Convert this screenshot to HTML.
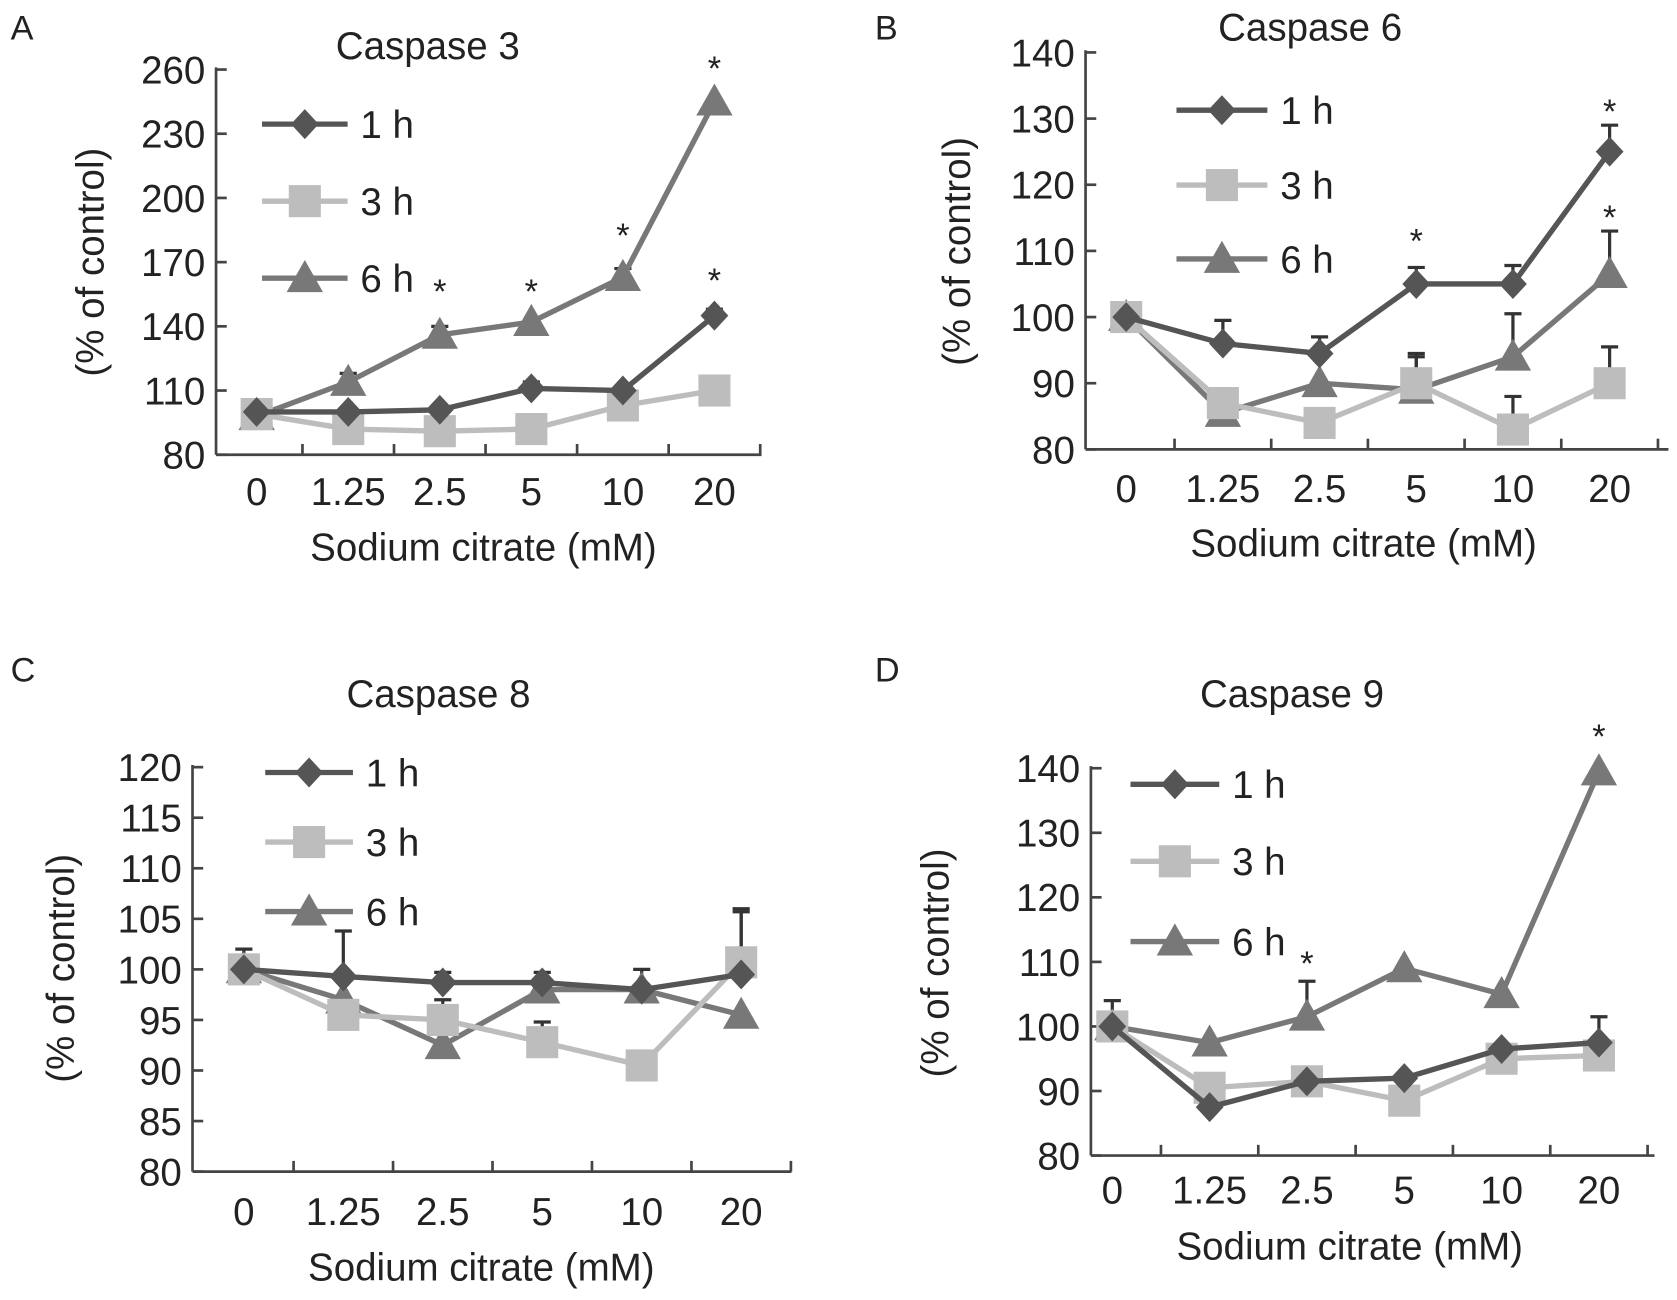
<!DOCTYPE html>
<html><head><meta charset="utf-8">
<style>
html,body{margin:0;padding:0;background:#fff;}
svg{display:block;}
text{font-family:"Liberation Sans",Arial,sans-serif;fill:#222;}
</style></head>
<body>
<svg id="fig" width="1677" height="1300" viewBox="0 0 1568 1215" preserveAspectRatio="none" xmlns="http://www.w3.org/2000/svg"></svg>
<script>
const categories = ["0","1.25","2.5","5","10","20"];
const seriesNames = ["1 h","3 h","6 h"];
// Caspase 3
const c3_1h = [100,100,101,111,110,145];
const c3_3h = [99,92,91,92,103,110];
const c3_6h = [98,114,136,142,163,245];
const c3_ticks = [80,110,140,170,200,230,260];
const c3_err1 = [0,0,0,3,0,3];
const c3_err3 = [0,0,0,0,0,0];
const c3_err6 = [0,4,4,0,4,0];
// Caspase 6
const c6_1h = [100,96,94.5,105,105,125];
const c6_3h = [100,87,84,90,83,90];
const c6_6h = [100,85.5,90,89,94,106.5];
const c6_ticks = [80,90,100,110,120,130,140];
const c6_err1 = [0,3.5,2.5,2.5,2.8,4];
const c6_err3 = [0,0,0,4.5,5,5.5];
const c6_err6 = [0,0,0,5,6.5,6.5];
// Caspase 8
const c8_1h = [100,99.3,98.7,98.7,98,99.5];
const c8_3h = [100,95.5,95,92.8,90.5,100.7];
const c8_6h = [100,97,92.5,98,98,95.5];
const c8_ticks = [80,85,90,95,100,105,110,115,120];
const c8_err1 = [2,4.5,1,1,2,6.5];
const c8_err3 = [0,0,2,2,0,5];
const c8_err6 = [0,0,0,0,0,0];
// Caspase 9
const c9_1h = [100,87.5,91.5,92,96.5,97.5];
const c9_3h = [100,90.5,91.5,88.5,95,95.5];
const c9_6h = [100,97.5,101.5,109,105,139.5];
const c9_ticks = [80,90,100,110,120,130,140];
const c9_err1 = [4,0,0,0,0,4];
const c9_err3 = [0,0,0,0,0,0];
const c9_err6 = [0,0,5.5,0,0,0];

const NS="http://www.w3.org/2000/svg";
const svg=document.getElementById('fig');
const FS=36;
function mk(tag,attrs,parent){const e=document.createElementNS(NS,tag);for(const k in attrs)e.setAttribute(k,attrs[k]);(parent||svg).appendChild(e);return e;}
function txt(s,x,y,size,anchor,parent){const t=mk('text',{x:x,y:y,'font-size':size,'text-anchor':anchor||'middle'},parent);t.textContent=s;return t;}
const colors=["#555","#bdbdbd","#787878"];
function marker(kind,x,y,g,col){
  if(kind===0) return mk('polygon',{points:`${x},${y-14} ${x+13},${y} ${x},${y+14} ${x-13},${y}`,fill:col},g);
  if(kind===1) return mk('rect',{x:x-15,y:y-15,width:30,height:30,fill:col},g);
  return mk('polygon',{points:`${x},${y-17} ${x+17},${y+13} ${x-17},${y+13}`,fill:col},g);
}
function panel(cfg){
  const g=mk('g',{});
  
  
  const {ax,x0,x1,yTop,yBot,min,max,cats}=cfg;
  const ys=v=>yBot-(v-min)/(max-min)*(yBot-yTop);
  const xs=i=>cats[0]+i*(cats[1]-cats[0]);
  const letter=txt(cfg.letter,cfg.letterX,cfg.letterY,32,'start',g);
  
  
  const title=txt(cfg.title,cfg.titleX,cfg.titleY,FS,'middle',g);
  
  
  const ya=mk('line',{x1:ax,y1:yTop-2,x2:ax,y2:yBot,stroke:'#444','stroke-width':2.5},g);
  
  
  const xa=mk('line',{x1:ax,y1:yBot,x2:x1,y2:yBot,stroke:'#444','stroke-width':2.5},g);
  
  
  cfg.ticks.forEach(v=>{
    mk('line',{x1:ax,y1:ys(v),x2:ax+10,y2:ys(v),stroke:'#444','stroke-width':2.5},g);
    const t=txt(String(v),ax-10,ys(v)+13,FS,'end',g);
    
    
  });
  const step=cats[1]-cats[0];
  for(let i=0;i<6;i++){
    const tx=xs(i)+step/2;
    mk('line',{x1:tx,y1:yBot,x2:tx,y2:yBot-10,stroke:'#444','stroke-width':2.5},g);
    const t=txt(categories[i],xs(i),cfg.xlabY,FS,'middle',g);
    
    
  }
  const xt=txt('Sodium citrate (mM)',cfg.xtitleX,cfg.xtitleY,FS,'middle',g);
  
  
  const yt=txt('(% of control)',0,0,FS,'middle',g);
  yt.setAttribute('transform',`translate(${cfg.ytitleX},${cfg.ytitleY}) rotate(-90)`);
  
  
  [cfg.err1,cfg.err3,cfg.err6].forEach((errs,s)=>{
    const d=cfg.series[s];
    errs.forEach((e,i)=>{ if(!e) return;
      const x=xs(i),y0=ys(d[i]),y1=ys(d[i]+e);
      const eb=mk('path',{d:`M${x},${y0} V${y1} M${x-8},${y1} H${x+8}`,stroke:'#333','stroke-width':3,fill:'none'},g);
      
      
    });
  });
  [2,1,0].forEach(s=>{
    const d=cfg.series[s];
    const pts=d.map((v,i)=>`${xs(i)},${ys(v)}`).join(' ');
    const pl=mk('polyline',{points:pts,fill:'none',stroke:colors[s],'stroke-width':5},g);
    
    
    d.forEach((v,i)=>{
      const m=marker(s,xs(i),ys(v),g,colors[s]);
      
      
    });
  });
  cfg.stars.forEach(st=>{
    const d=cfg.series[st[0]];
    const top=d[st[1]]+[cfg.err1,cfg.err3,cfg.err6][st[0]][st[1]];
    const t=txt('*',xs(st[1]),ys(top)-st[2],32,'middle',g);
    
    
  });
  cfg.legY.forEach((ly,s)=>{
    const lg=mk('g',{},g);
    
    
    mk('line',{x1:cfg.legX0,y1:ly,x2:cfg.legX1,y2:ly,stroke:colors[s],'stroke-width':5},lg);
    marker(s,(cfg.legX0+cfg.legX1)/2,ly,lg,colors[s]);
    txt(seriesNames[s],cfg.legX1+12,ly+13,FS,'start',lg);
  });
}
panel({name:'panel-a-caspase3',letter:'A',letterX:10,letterY:37,title:'Caspase 3',titleX:400,titleY:55,
  ax:202,x1:712,yTop:65,yBot:425,min:80,max:260,cats:[240,325.6],ticks:c3_ticks,
  series:[c3_1h,c3_3h,c3_6h],err1:c3_err1,err3:c3_err3,err6:c3_err6,
  stars:[[2,2,22],[2,3,18],[2,4,20],[2,5,20],[0,5,16]],
  xlabY:472,xtitleX:452,xtitleY:524,ytitleX:97,ytitleY:245,legX0:245,legX1:325,legY:[116,188,260]});
panel({name:'panel-b-caspase6',letter:'B',letterX:818,letterY:37,title:'Caspase 6',titleX:1225,titleY:38,
  ax:1015,x1:1560,yTop:49,yBot:420,min:80,max:140,cats:[1053,1143.4],ticks:c6_ticks,
  series:[c6_1h,c6_3h,c6_6h],err1:c6_err1,err3:c6_err3,err6:c6_err6,
  stars:[[0,3,14],[0,5,2],[2,5,2]],
  xlabY:469,xtitleX:1275,xtitleY:520,ytitleX:907,ytitleY:235,legX0:1100,legX1:1185,legY:[103,173,242]});
panel({name:'panel-c-caspase8',letter:'C',letterX:10,letterY:637,title:'Caspase 8',titleX:410,titleY:661,
  ax:180,x1:740,yTop:717,yBot:1095,min:80,max:120,cats:[228,321],ticks:c8_ticks,
  series:[c8_1h,c8_3h,c8_6h],err1:c8_err1,err3:c8_err3,err6:c8_err6,stars:[],
  xlabY:1145,xtitleX:450,xtitleY:1197,ytitleX:69,ytitleY:905,legX0:248,legX1:330,legY:[722,787,852]});
panel({name:'panel-d-caspase9',letter:'D',letterX:818,letterY:637,title:'Caspase 9',titleX:1208,titleY:661,
  ax:1020,x1:1547,yTop:718,yBot:1080,min:80,max:140,cats:[1040,1131],ticks:c9_ticks,
  series:[c9_1h,c9_3h,c9_6h],err1:c9_err1,err3:c9_err3,err6:c9_err6,
  stars:[[2,2,6],[2,5,22]],
  xlabY:1125,xtitleX:1262,xtitleY:1177,ytitleX:887,ytitleY:900,legX0:1057,legX1:1140,legY:[733,805,880]});
</script>
</body></html>
